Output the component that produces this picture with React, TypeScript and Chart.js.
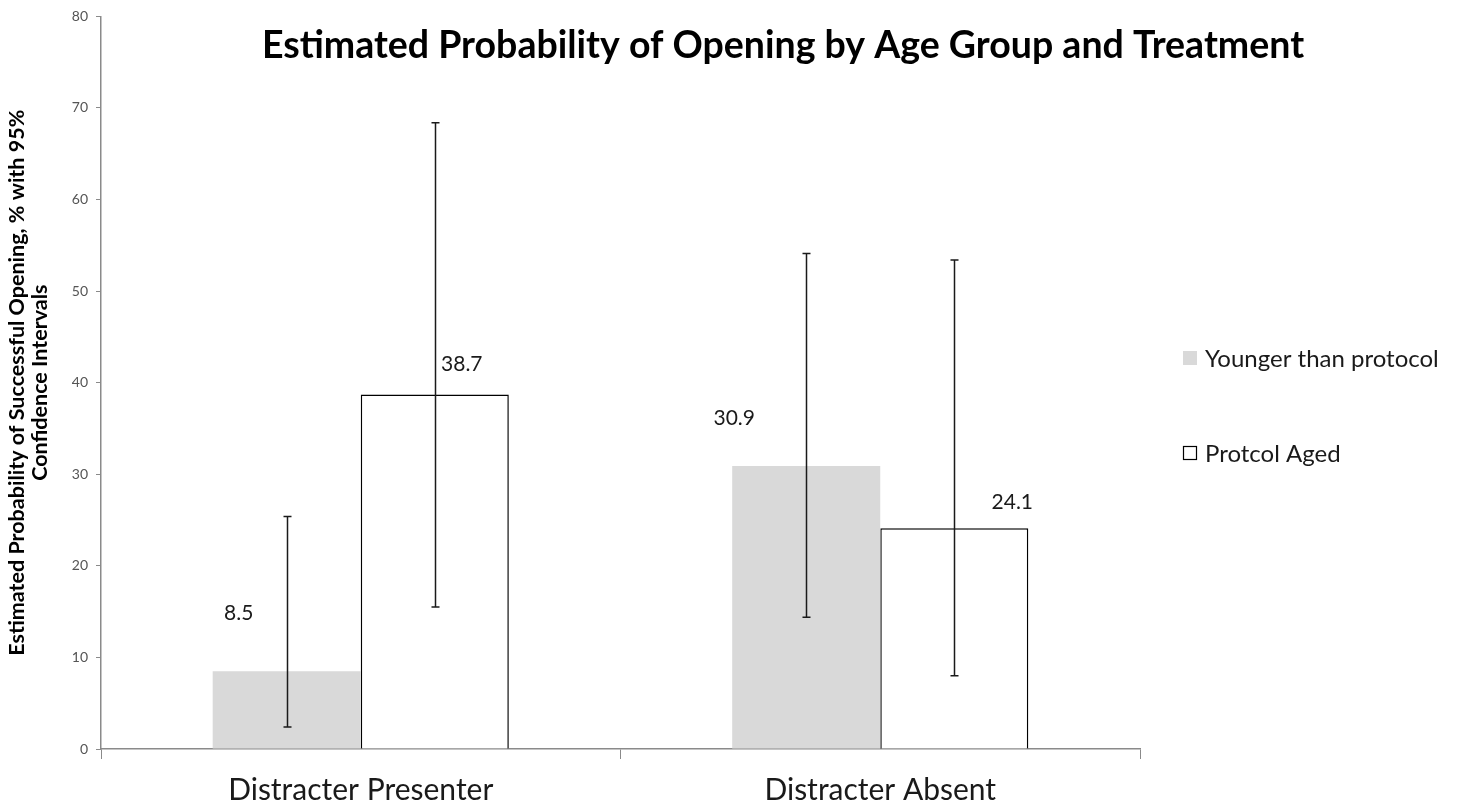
import React, { useEffect, useRef } from "react";
import { Chart, registerables } from "chart.js";

Chart.register(...registerables);

// ---- data ----
const categories = ["Distracter Presenter", "Distracter Absent"];
const seriesNames = ["Younger than protocol", "Protcol Aged"];
const youngerValues = [8.5, 30.9];
const youngerLower = [2.4, 14.4];
const youngerUpper = [25.4, 54.1];
const agedValues = [38.7, 24.1];
const agedLower = [15.5, 8.0];
const agedUpper = [68.4, 53.4];
const yMin = 0;
const yMax = 80;
const yStep = 10;
const chartTitle = "Estimated Probability of Opening by Age Group and Treatment";
const yAxisTitle = ["Estimated Probability of Successful Opening, % with 95%", "Confidence Intervals"];

// ---- styles ----
const FONT = "Lato, 'Open Sans', sans-serif";
const GREY = "#d9d9d9";
const TEXT = "#1a1a1a";
const AXIS = "#8a8a8a";
// label offset from bar top-centre (px), per dataset then category
const LABEL_OFFSETS = [
  [{ dx: -48, dy: -58 }, { dx: -72, dy: -48 }],
  [{ dx: 27, dy: -30 }, { dx: 58, dy: -26 }],
];

const overlayPlugin = {
  id: "overlay",
  afterDatasetsDraw(chart: any) {
    const { ctx, scales } = chart;
    const y = scales.y;
    const lows = [youngerLower, agedLower];
    const highs = [youngerUpper, agedUpper];
    const vals = [youngerValues, agedValues];
    ctx.save();
    // error bars
    ctx.strokeStyle = "#1a1a1a";
    ctx.lineWidth = 1.5;
    for (let d = 0; d < 2; d++) {
      const meta = chart.getDatasetMeta(d);
      meta.data.forEach((bar: any, i: number) => {
        const x = Math.round(bar.x) + 0.5;
        const yl = y.getPixelForValue(lows[d][i]);
        const yh = y.getPixelForValue(highs[d][i]);
        ctx.beginPath();
        ctx.moveTo(x, yl);
        ctx.lineTo(x, yh);
        ctx.moveTo(x - 4, yl);
        ctx.lineTo(x + 4, yl);
        ctx.moveTo(x - 4, yh);
        ctx.lineTo(x + 4, yh);
        ctx.stroke();
      });
    }
    // value labels
    ctx.fillStyle = TEXT;
    ctx.font = `21px ${FONT}`;
    ctx.textAlign = "center";
    ctx.textBaseline = "middle";
    for (let d = 0; d < 2; d++) {
      const meta = chart.getDatasetMeta(d);
      meta.data.forEach((bar: any, i: number) => {
        const off = LABEL_OFFSETS[d][i];
        ctx.fillText(vals[d][i].toFixed(1), bar.x + off.dx, y.getPixelForValue(vals[d][i]) + off.dy);
      });
    }
    // title
    ctx.font = `bold 37.5px ${FONT}`;
    ctx.fillStyle = "#000";
    ctx.fillText(chartTitle, 783, 46);
    // legend
    const lx = 1183;
    const items = [
      { y: 358, fill: GREY, stroke: null },
      { y: 453, fill: "#fff", stroke: "#000" },
    ];
    ctx.font = `24px ${FONT}`;
    ctx.textAlign = "left";
    items.forEach((it, k) => {
      ctx.fillStyle = it.fill;
      ctx.fillRect(lx, it.y - 7, 14, 14);
      if (it.stroke) {
        ctx.strokeStyle = it.stroke;
        ctx.lineWidth = 1.2;
        ctx.strokeRect(lx + 0.5, it.y - 6.5, 13, 13);
      }
      ctx.fillStyle = TEXT;
      ctx.fillText(seriesNames[k], lx + 22, it.y + 1);
    });
    ctx.restore();
  },
};

export default function App() {
  const ref = useRef<HTMLCanvasElement | null>(null);
  useEffect(() => {
    document.body.style.margin = "0";
    const canvas = ref.current!;
    const chart = new Chart(canvas, {
      type: "bar",
      data: {
        labels: categories,
        datasets: [
          {
            label: seriesNames[0],
            data: youngerValues,
            backgroundColor: GREY,
            borderWidth: 0,
          },
          {
            label: seriesNames[1],
            data: agedValues,
            backgroundColor: "#ffffff",
            borderColor: "#000000",
            borderWidth: 1.5,
          },
        ],
      },
      options: {
        responsive: false,
        animation: false,
        categoryPercentage: 0.57,
        barPercentage: 1,
        layout: { padding: { top: 15, right: 317, bottom: 0, left: 0 } },
        plugins: {
          legend: { display: false },
          title: { display: false },
          tooltip: { enabled: false },
        },
        scales: {
          x: {
            afterFit: (s: any) => {
              s.height = 56;
            },
            grid: {
              offset: true,
              drawOnChartArea: false,
              drawTicks: true,
              tickLength: 10,
              color: AXIS,
            },
            border: { color: AXIS, width: 1.5 },
            ticks: {
              color: TEXT,
              padding: 13,
              font: { family: FONT, size: 30 },
            },
          },
          y: {
            min: yMin,
            max: yMax,
            afterFit: (s: any) => {
              s.width = 101;
            },
            grid: {
              drawOnChartArea: false,
              drawTicks: true,
              tickLength: 5,
              color: AXIS,
            },
            border: { color: AXIS, width: 1.5 },
            ticks: {
              stepSize: yStep,
              color: "#555555",
              padding: 8,
              font: { family: FONT, size: 14 },
            },
            title: {
              display: true,
              text: yAxisTitle,
              color: "#000",
              font: { family: FONT, size: 21.5, weight: "bold", lineHeight: 1.05 },
              padding: { top: 6, bottom: 0 },
            },
          },
        },
      },
      plugins: [overlayPlugin],
    });
    return () => chart.destroy();
  }, []);
  return <canvas ref={ref} width={1457} height={805} style={{ display: "block" }} />;
}
